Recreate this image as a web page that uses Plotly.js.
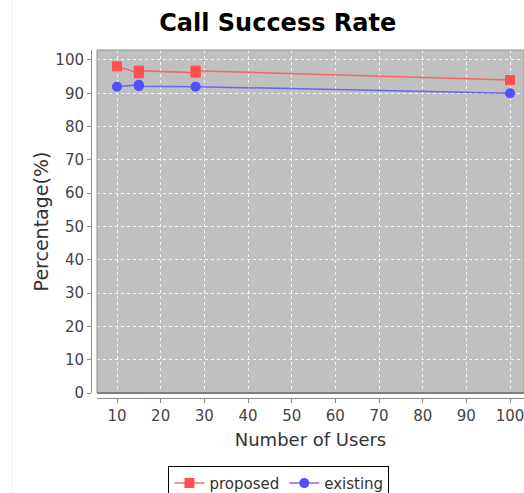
<!DOCTYPE html>
<html>
<head>
<meta charset="utf-8">
<script src="https://cdn.plot.ly/plotly-3.0.1.min.js"></script>
<style>html,body{margin:0;padding:0;background:#fff;}#chart{width:524px;height:493px;}</style>
</head>
<body>
<div id="chart"></div>
<script>
// Data
const proposedX = [10, 15, 15, 28, 28, 100];
const proposedY = [98.1, 96.0, 96.8, 96.2, 96.8, 94.0];
const existingX = [10, 15, 15, 28, 100];
const existingY = [92.0, 92.6, 92.1, 92.0, 90.0];
const xTicks = [10, 20, 30, 40, 50, 60, 70, 80, 90, 100];
const yTicks = [0, 10, 20, 30, 40, 50, 60, 70, 80, 90, 100];

const FONT = 'DejaVu Sans, sans-serif';
const traces = [
  {
    x: proposedX, y: proposedY, name: 'proposed', mode: 'lines+markers',
    line: {color: 'rgba(255,85,85,0.85)', width: 1.5},
    marker: {symbol: 'square', color: '#ff5050', size: 10}
  },
  {
    x: existingX, y: existingY, name: 'existing', mode: 'lines+markers',
    line: {color: 'rgba(85,85,255,0.85)', width: 1.5},
    marker: {symbol: 'circle', color: '#5050ff', size: 10}
  }
];

const layout = {
  width: 524, height: 493,
  margin: {l: 91, r: 0, t: 50, b: 95, autoexpand: false},
  paper_bgcolor: '#ffffff',
  plot_bgcolor: '#c0c0c0',
  font: {family: FONT, color: '#444444', size: 15},
  title: {text: '<b>Call Success Rate</b>', x: 0.53, xanchor: 'center', y: 0.955, yanchor: 'middle',
          font: {family: FONT, size: 24, color: '#000000'}},
  xaxis: {
    domain: [6/433, 1], range: [5.42, 103.2], anchor: 'free', position: 0,
    tickvals: xTicks, ticktext: xTicks.map(String),
    ticklabeloverflow: 'allow',
    showline: true, linecolor: '#8a8a8a', linewidth: 1,
    ticks: 'outside', ticklen: 4, tickcolor: '#8a8a8a',
    showgrid: true, gridcolor: '#f4f4f4', griddash: 'dot', gridwidth: 1,
    zeroline: false,
    tickfont: {family: FONT, size: 15, color: '#444444'},
    title: {text: 'Number of Users', standoff: 9, font: {family: FONT, size: 18, color: '#333333'}}
  },
  yaxis: {
    domain: [5/348, 1], range: [0, 103], anchor: 'free', position: 0,
    tickvals: yTicks, ticktext: yTicks.map(String),
    showline: true, linecolor: '#8a8a8a', linewidth: 1,
    ticks: 'outside', ticklen: 4, tickcolor: '#8a8a8a',
    showgrid: true, gridcolor: '#f4f4f4', griddash: 'dot', gridwidth: 1,
    zeroline: false,
    tickfont: {family: FONT, size: 15, color: '#444444'},
    title: {text: 'Percentage(%)', standoff: 0, font: {family: FONT, size: 19, color: '#333333'}}
  },
  showlegend: true,
  legend: {
    orientation: 'h', x: 0.434, xanchor: 'center', y: -0.195, yanchor: 'top',
    bgcolor: '#ffffff', bordercolor: '#000000', borderwidth: 1,
    font: {family: FONT, size: 15, color: '#333333'},
    itemwidth: 30, tracegroupgap: 0
  },
  shapes: [
    {type: 'rect', xref: 'x domain', yref: 'y domain', x0: 0, x1: 1, y0: 0, y1: 1,
     line: {color: '#909090', width: 1}, layer: 'above'},
    {type: 'line', xref: 'x domain', yref: 'y domain', x0: 0, x1: 1, y0: 0, y1: 0,
     line: {color: '#808080', width: 2}, layer: 'above'},
    {type: 'line', xref: 'paper', yref: 'paper', x0: -0.1824, x1: -0.1824, y0: -0.3, y1: 1.15,
     line: {color: '#ececec', width: 1}}
  ]
};

Plotly.newPlot('chart', traces, layout, {displayModeBar: false, staticPlot: true});
</script>
</body>
</html>
